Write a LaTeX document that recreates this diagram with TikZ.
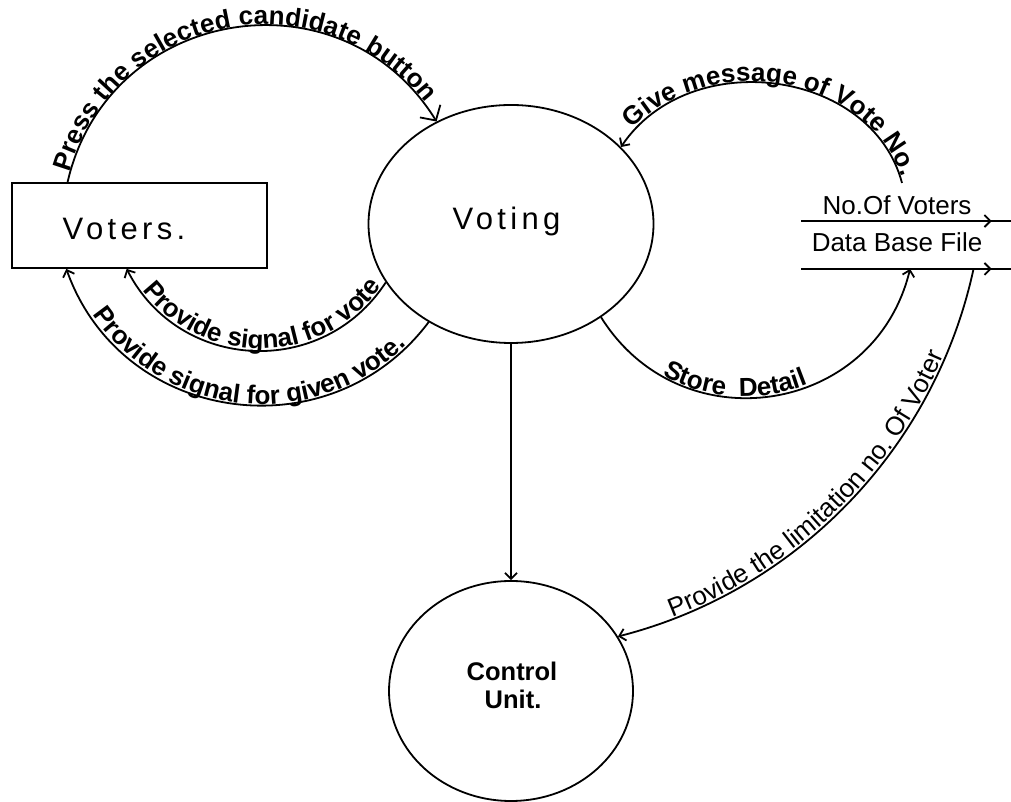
\documentclass[tikz,border=0pt]{standalone}
\usepackage{fontspec}
\setmainfont{Liberation Sans}
\newfontfamily\spacedfont[LetterSpace=14]{Liberation Sans}
\usetikzlibrary{arrows.meta,shapes.geometric,decorations.text,decorations.markings,calc}
\newcommand\lblfont{\bfseries\fontsize{26}{26}\selectfont}
\newcommand\lblregfont{\fontsize{26}{26}\selectfont}
\begin{document}
\begin{tikzpicture}[x=1pt,y=1pt,line width=1.8pt,
  conn/.style={-{Straight Barb[length=6pt,width=12pt]}},
  bigconn/.style={-{Straight Barb[length=11pt,width=24pt]}},
  boxnode/.style={draw, rectangle, inner sep=0pt},
  bubble/.style={draw, ellipse, inner sep=0pt},
  bigtext/.style={anchor=base, font=\spacedfont\fontsize{31}{31}\selectfont},
  storetext/.style={anchor=base, font=\fontsize{26}{26}\selectfont},
  ctltext/.style={anchor=base, font=\bfseries\fontsize{25.5}{25.5}\selectfont},
  storeline/.style={postaction={decorate, decoration={markings,
      mark=at position 0.904 with {\arrow{Straight Barb[length=6pt,width=12pt]}}}}},
  lbl/.style={decorate, decoration={text along path, text={|\lblfont|#1},
      text align=center, raise=1.5pt}},
  lblreg/.style={decorate, decoration={text along path, text={|\lblregfont|#1},
      text align=center, raise=1.5pt}}
]
\useasboundingbox (0,0) rectangle (1011,802);

% nodes
\node[boxnode, minimum width=255pt, minimum height=85pt] (voters) at (139.5,576.5) {};
\node[bigtext] (voterstxt) at (124,562) {Voters.};
\node[bubble, minimum width=285pt, minimum height=238pt] (voting) at (511,578) {};
\node[bigtext] (votingtxt) at (506.5,572) {Voting};
\node[bubble, minimum width=244pt, minimum height=220pt] (control) at (511,111) {};
\node[ctltext] (ctl1) at (512,121.3) {Control};
\node[ctltext] (ctl2) at (513,93.7) {Unit.};
\node[minimum width=209pt, minimum height=46pt, inner sep=0pt] (store) at (906.5,557) {};
\draw[storeline] (store.north west) -- (store.north east);
\draw[storeline] (store.south west) -- (store.south east);
\node[storetext] (nov) at (897,587) {No.Of Voters};
\node[storetext] (dbf) at (897,550.3) {Data Base File};

% connector end points
\coordinate (v1) at ($(voters.north west)!0.22!(voters.north east)$);
\coordinate (g0) at (902,619);
\coordinate (v3) at ($(voters.south west)!0.45!(voters.south east)$);
\coordinate (v4) at ($(voters.south west)!0.215!(voters.south east)$);
\coordinate (s5) at ($(store.south west)!0.517!(store.south east)$);
\coordinate (s6) at ($(store.south west)!0.818!(store.south east)$);

% connectors
\draw[bigconn] (v1) .. controls +(40.3,176) and +(-94.9,153.7) .. (voting.126);
\draw[conn] (g0) .. controls +(-30.1,114.2) and +(68.9,102.0) .. (voting.35);
\draw[conn] (voting.205) .. controls +(-63,-97) and +(52.7,-103) .. (v3);
\draw[conn] (voting.230) .. controls +(-99.1,-131.9) and +(55.4,-155.4) .. (v4);
\draw[conn] (voting.314) .. controls +(79.9,-127.9) and +(-35.7,-146.5) .. (s5);
\draw[conn] (s6) .. controls +(-38.9,-179.9) and +(178.4,45.5) .. (control.27);
\draw[conn] (voting.south) -- (control.north);

% labels along the arcs
\path[lbl={Press the selected candidate button}]
  ($(265,574)+(172:202)$) arc[start angle=172, end angle=30, radius=202];
\path[lbl={Give message of Vote No.}]
  ($(752,592)+({153.5*cos(150)},{127*sin(150)})$) arc[start angle=150, end angle=5, x radius=153.5, y radius=127];
\path[lbl={Provide signal for vote}]
  ($(260.6,602.2)+(-150:150.4)$) arc[start angle=-150, end angle=-28, radius=150.4];
\path[lbl={Provide signal for given vote.}]
  ($(262.1,603.3)+(-155:207)$) arc[start angle=-155, end angle=-36, radius=207];
\path[lbl={Store{~~}Detail}]
  ($(744.5,574.4)+(-135:170.4)$) arc[start angle=-135, end angle=-52, radius=170.4];
\path[lblreg={Provide the limitation no. Of Voter}]
  ($(498.5,636.5)+(-74:485.4)$) arc[start angle=-74, end angle=-18, radius=485.4];
\end{tikzpicture}
\end{document}
